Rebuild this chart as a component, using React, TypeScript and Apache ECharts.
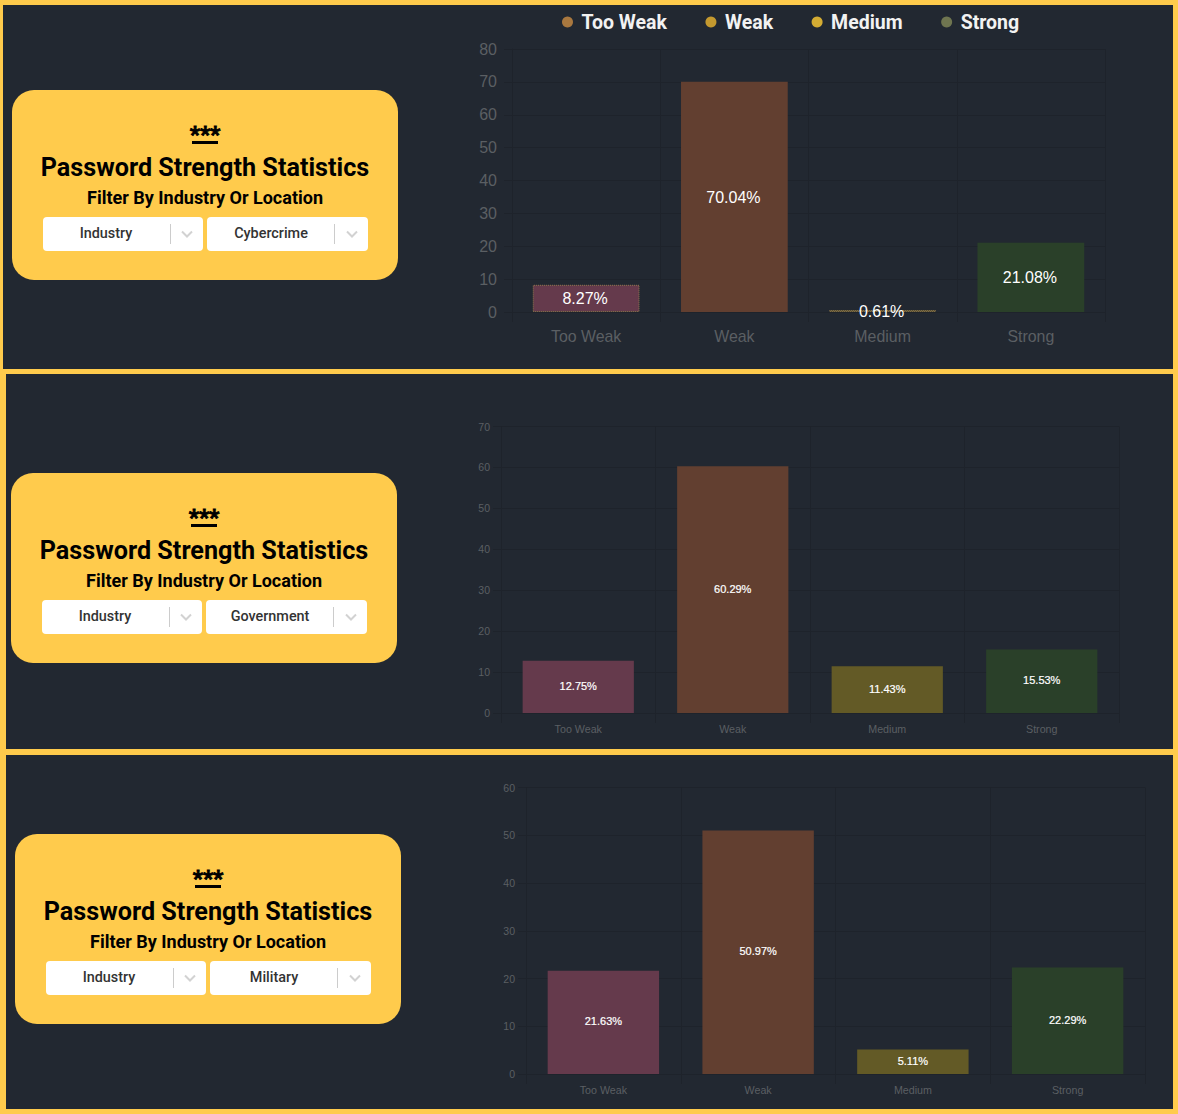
import React, { useEffect, useRef } from "react";
import * as echarts from "echarts";

const categories = ["Too Weak", "Weak", "Medium", "Strong"];
const cybercrimeValues = [8.27, 70.04, 0.61, 21.08];
const governmentValues = [12.75, 60.29, 11.43, 15.53];
const militaryValues = [21.63, 50.97, 5.11, 22.29];
const barColors = ["#653a4c", "#623f30", "#635a26", "#2a4029"];
const legendDotColors = ["#a9783f", "#c4992f", "#d4ac33", "#6f7550"];
const filterLabels = ["Cybercrime", "Government", "Military"];
const axisMaxes = [80, 70, 60];

const YELLOW = "#ffcb4c";
const PANEL = "#222831";
const UI = "Roboto, sans-serif";
const CHART_FONT = '"Liberation Sans", Arial, sans-serif';

const panels = [
  { x: 3, y: 5, width: 1170, height: 364 },
  { x: 6, y: 374, width: 1167, height: 375 },
  { x: 6, y: 755, width: 1167, height: 354 },
];
const cards = [
  { x: 12, y: 90 },
  { x: 11, y: 473 },
  { x: 15, y: 834 },
];
const grids = [
  { left: 512, top: 49, width: 593, height: 263 },
  { left: 501, top: 426.5, width: 618, height: 286.5 },
  { left: 526, top: 787.5, width: 619, height: 286.5 },
];
const seriesByChart = [cybercrimeValues, governmentValues, militaryValues];
const styleByChart = [
  { tick: 16, cat: 15.9, label: 16, margin: 16, yMargin: 15, stroke: 0, offset: [-1, 0.5] },
  { tick: 10.5, cat: 10.7, label: 11, margin: 10, yMargin: 11, stroke: 0.2, offset: [0, -1] },
  { tick: 10.5, cat: 10.7, label: 11, margin: 10, yMargin: 11, stroke: 0.2, offset: [0, -1] },
];

function card(origin: { x: number; y: number }, filter: string) {
  const t = (text: string, x: number, y: number, size: number, weight: number, fill = "#000") => ({
    type: "text",
    x,
    y,
    style: { text, fill, font: `${weight} ${size}px ${UI}`, textAlign: "center", textVerticalAlign: "middle" },
  });
  const select = (x: number, w: number, label: string, cx: number, chevron: number) => [
    { type: "rect", x, y: 127, shape: { width: w, height: 34, r: 4 }, style: { fill: "#fff" } },
    t(label, cx, 143, 14.4, 500, "#333"),
    { type: "rect", x: x + 127, y: 134, shape: { width: 1, height: 20 }, style: { fill: "#ccc" } },
    {
      type: "polyline",
      x: x + chevron,
      y: 141.5,
      shape: { points: [[0, 0], [5, 5], [10, 0]] },
      style: { stroke: "#d2d2d2", lineWidth: 2, fill: "none" },
    },
  ];
  const stars = t("***", 193, 44, 22, 900);
  (stars.style as any).stroke = "#000";
  (stars.style as any).lineWidth = 0.8;
  return {
    type: "group",
    x: origin.x,
    y: origin.y,
    children: [
      { type: "rect", shape: { width: 386, height: 190, r: 22 }, style: { fill: YELLOW } },
      stars,
      { type: "rect", x: 180, y: 51, shape: { width: 26, height: 3 }, style: { fill: "#000" } },
      t("Password Strength Statistics", 193, 77, 25.2, 700),
      t("Filter By Industry Or Location", 193, 107.5, 18, 700),
      ...select(31, 160, "Industry", 94, 139),
      ...select(195, 161, filter, 259, 140),
    ],
  };
}

export default function App() {
  const ref = useRef<HTMLDivElement>(null);
  useEffect(() => {
    document.body.style.margin = "0";
    const chart = echarts.init(ref.current!, undefined, { renderer: "svg" });
    const gridLine = "#1e232b";
    chart.setOption({
      animation: false,
      backgroundColor: YELLOW,
      legend: {
        left: 557,
        top: 7,
        itemWidth: 18,
        itemHeight: 11,
        itemGap: 38.5,
        icon: "circle",
        textStyle: { color: "#f2f2f2", fontFamily: UI, fontWeight: 700, fontSize: 19.5 },
        data: categories.map((name, i) => ({
          name,
          itemStyle: { color: legendDotColors[i], borderWidth: 0 },
        })),
      },
      graphic: [
        ...panels.map((p) => ({
          type: "rect",
          z: -10,
          x: p.x,
          y: p.y,
          shape: { width: p.width, height: p.height },
          style: { fill: PANEL },
        })),
        ...cards.map((c, i) => card(c, filterLabels[i])),
      ],
      grid: grids,
      xAxis: grids.map((_, i) => ({
        type: "category",
        gridIndex: i,
        data: categories,
        axisLine: { lineStyle: { color: gridLine } },
        axisTick: { show: true, length: 10, lineStyle: { color: gridLine } },
        axisLabel: { color: "#5b5f63", fontFamily: CHART_FONT, fontSize: styleByChart[i].cat, margin: styleByChart[i].margin },
        splitLine: { show: true, lineStyle: { color: gridLine } },
      })),
      yAxis: grids.map((_, i) => ({
        type: "value",
        gridIndex: i,
        min: 0,
        max: axisMaxes[i],
        interval: 10,
        axisLine: { show: true, lineStyle: { color: gridLine } },
        axisTick: { show: true, length: 8, lineStyle: { color: gridLine } },
        axisLabel: { color: "#5b5f63", fontFamily: CHART_FONT, fontSize: styleByChart[i].tick, margin: styleByChart[i].yMargin },
        splitLine: { show: true, lineStyle: { color: gridLine } },
      })),
      series: seriesByChart.flatMap((values, g) =>
        categories.map((name, c) => ({
          type: "bar",
          name,
          xAxisIndex: g,
          yAxisIndex: g,
          stack: `chart${g}`,
          barWidth: "72%",
          itemStyle:
            g === 0 && (c === 0 || c === 2)
              ? { color: barColors[c], borderColor: "#94794f", borderWidth: 1, borderType: "dotted" }
              : { color: barColors[c] },
          label: {
            show: true,
            position: "inside",
            offset: styleByChart[g].offset,
            color: "#fff",
            fontFamily: CHART_FONT,
            fontSize: styleByChart[g].label,
            textBorderColor: "#fff",
            textBorderWidth: styleByChart[g].stroke,
            formatter: (p: any) => `${p.value}%`,
          },
          data: categories.map((_, k) => (k === c ? values[c] : null)),
        }))
      ),
    });
    return () => chart.dispose();
  }, []);
  return <div ref={ref} style={{ width: 1178, height: 1114, position: "absolute", left: 0, top: 0 }} />;
}
